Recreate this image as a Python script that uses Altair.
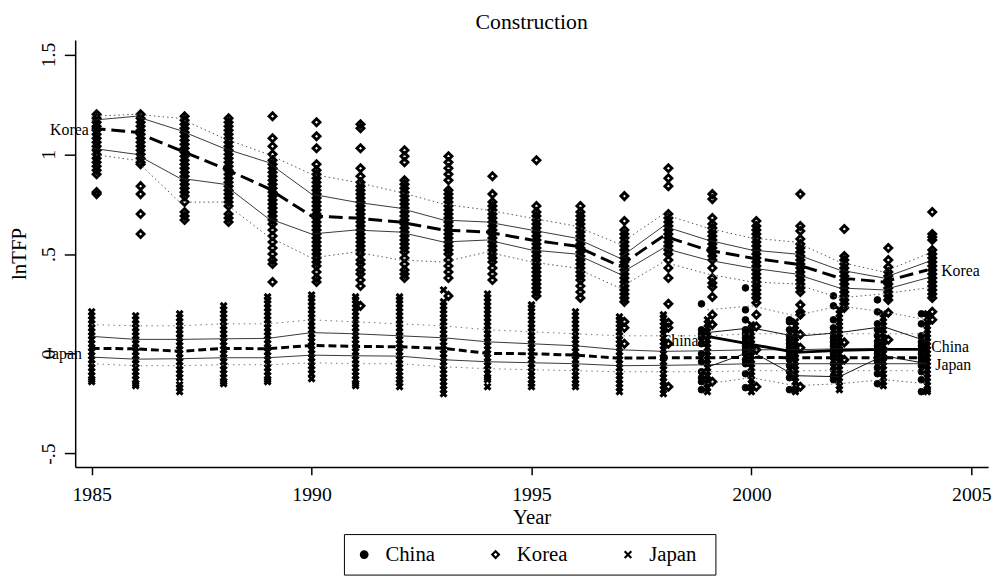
import altair as alt
import pandas as pd

# ---------------- data ----------------
years = list(range(1985, 2005))
china_years = list(range(1999, 2005))
countries = ["China", "Korea", "Japan"]

korea_points = [
    [1.20, 1.18, 1.16, 1.14, 1.12, 1.10, 1.08, 1.06, 1.04, 1.02, 1.00, 0.98, 0.96, 0.94, 0.92, 0.90, 0.81, 0.80],
    [1.20, 1.18, 1.16, 1.14, 1.12, 1.10, 1.08, 1.06, 1.04, 1.02, 1.00, 0.98, 0.96, 0.95, 0.84, 0.80, 0.70, 0.60],
    [1.19, 1.17, 1.15, 1.13, 1.11, 1.09, 1.07, 1.05, 1.03, 1.01, 0.99, 0.97, 0.95, 0.93, 0.91, 0.89, 0.87, 0.85, 0.83, 0.81, 0.79, 0.76, 0.71, 0.69, 0.67],
    [1.18, 1.16, 1.14, 1.12, 1.10, 1.08, 1.06, 1.04, 1.02, 1.00, 0.98, 0.96, 0.94, 0.92, 0.90, 0.88, 0.86, 0.84, 0.82, 0.80, 0.78, 0.76, 0.74, 0.70, 0.68, 0.66],
    [1.19, 1.08, 1.04, 1.00, 0.97, 0.95, 0.93, 0.91, 0.89, 0.87, 0.85, 0.83, 0.81, 0.79, 0.77, 0.75, 0.73, 0.71, 0.69, 0.67, 0.65, 0.62, 0.59, 0.56, 0.53, 0.50, 0.47, 0.45, 0.36],
    [1.16, 1.09, 1.03, 0.95, 0.92, 0.90, 0.88, 0.86, 0.84, 0.82, 0.80, 0.78, 0.76, 0.74, 0.72, 0.70, 0.68, 0.66, 0.64, 0.62, 0.60, 0.58, 0.56, 0.54, 0.52, 0.50, 0.48, 0.46, 0.44, 0.41, 0.38, 0.36],
    [1.15, 1.13, 1.03, 0.93, 0.89, 0.86, 0.84, 0.82, 0.80, 0.78, 0.76, 0.74, 0.72, 0.70, 0.68, 0.66, 0.64, 0.62, 0.60, 0.58, 0.56, 0.54, 0.52, 0.50, 0.47, 0.45, 0.42, 0.40, 0.37, 0.34, 0.24],
    [1.02, 0.99, 0.96, 0.87, 0.85, 0.83, 0.81, 0.79, 0.77, 0.75, 0.73, 0.71, 0.69, 0.67, 0.65, 0.63, 0.61, 0.59, 0.57, 0.55, 0.53, 0.51, 0.48, 0.45, 0.42, 0.40, 0.38],
    [0.99, 0.96, 0.93, 0.90, 0.87, 0.82, 0.80, 0.78, 0.76, 0.74, 0.72, 0.70, 0.68, 0.66, 0.64, 0.62, 0.60, 0.58, 0.56, 0.54, 0.52, 0.50, 0.47, 0.44, 0.41, 0.38, 0.29],
    [0.89, 0.80, 0.76, 0.74, 0.72, 0.70, 0.68, 0.66, 0.64, 0.62, 0.60, 0.58, 0.56, 0.54, 0.52, 0.50, 0.48, 0.46, 0.43, 0.40, 0.37],
    [0.97, 0.74, 0.71, 0.69, 0.67, 0.65, 0.63, 0.61, 0.59, 0.57, 0.55, 0.53, 0.51, 0.49, 0.47, 0.45, 0.43, 0.41, 0.39, 0.37, 0.35, 0.33, 0.31, 0.29],
    [0.74, 0.71, 0.69, 0.67, 0.65, 0.63, 0.61, 0.59, 0.57, 0.55, 0.53, 0.51, 0.49, 0.47, 0.45, 0.43, 0.41, 0.39, 0.37, 0.34, 0.31, 0.28],
    [0.79, 0.665, 0.62, 0.60, 0.58, 0.56, 0.54, 0.52, 0.50, 0.48, 0.46, 0.44, 0.42, 0.40, 0.38, 0.36, 0.34, 0.32, 0.30, 0.28, 0.26, 0.16, 0.13, 0.05],
    [0.93, 0.88, 0.84, 0.70, 0.68, 0.66, 0.64, 0.62, 0.60, 0.58, 0.56, 0.54, 0.52, 0.50, 0.47, 0.43, 0.38, 0.25, 0.155, 0.13, 0.05, -0.165],
    [0.80, 0.775, 0.68, 0.65, 0.63, 0.61, 0.59, 0.57, 0.55, 0.53, 0.51, 0.49, 0.47, 0.43, 0.38, 0.355, 0.335, 0.285, 0.195, 0.146, -0.14],
    [0.665, 0.64, 0.62, 0.60, 0.58, 0.56, 0.54, 0.52, 0.50, 0.48, 0.46, 0.44, 0.42, 0.40, 0.38, 0.36, 0.34, 0.32, 0.30, 0.28, 0.255, 0.195, 0.137, 0.02, -0.165],
    [0.80, 0.64, 0.615, 0.575, 0.55, 0.53, 0.51, 0.49, 0.47, 0.45, 0.43, 0.41, 0.39, 0.37, 0.35, 0.33, 0.31, 0.245, 0.21, 0.195, 0.096, 0.03, -0.165],
    [0.625, 0.49, 0.47, 0.45, 0.43, 0.41, 0.39, 0.37, 0.35, 0.33, 0.31, 0.29, 0.27, 0.25, 0.23, 0.057, -0.03],
    [0.53, 0.47, 0.435, 0.41, 0.39, 0.37, 0.35, 0.33, 0.31, 0.29, 0.27, 0.205, 0.07],
    [0.71, 0.60, 0.585, 0.57, 0.52, 0.50, 0.48, 0.46, 0.44, 0.42, 0.40, 0.38, 0.36, 0.34, 0.32, 0.30, 0.28, 0.21, 0.17],
]

japan_points = [
    [0.21, 0.19, 0.17, 0.15, 0.13, 0.11, 0.09, 0.07, 0.05, 0.03, 0.01, -0.01, -0.03, -0.05, -0.07, -0.09, -0.11, -0.13, -0.14],
    [0.19, 0.17, 0.15, 0.13, 0.11, 0.09, 0.07, 0.05, 0.03, 0.01, -0.01, -0.03, -0.05, -0.07, -0.09, -0.11, -0.13, -0.15, -0.16],
    [0.20, 0.18, 0.16, 0.14, 0.12, 0.10, 0.08, 0.06, 0.04, 0.02, 0.00, -0.02, -0.04, -0.06, -0.08, -0.10, -0.12, -0.155, -0.17, -0.19],
    [0.24, 0.22, 0.20, 0.18, 0.16, 0.14, 0.12, 0.10, 0.08, 0.06, 0.04, 0.02, 0.00, -0.02, -0.04, -0.06, -0.08, -0.10, -0.12, -0.14, -0.15],
    [0.285, 0.27, 0.25, 0.23, 0.21, 0.19, 0.17, 0.15, 0.13, 0.11, 0.09, 0.07, 0.05, 0.03, 0.01, -0.01, -0.03, -0.05, -0.07, -0.09, -0.11, -0.13, -0.14],
    [0.295, 0.28, 0.26, 0.24, 0.22, 0.20, 0.18, 0.16, 0.14, 0.12, 0.10, 0.08, 0.06, 0.04, 0.02, 0.00, -0.02, -0.04, -0.06, -0.08, -0.10, -0.125],
    [0.285, 0.27, 0.25, 0.23, 0.21, 0.19, 0.17, 0.15, 0.13, 0.11, 0.09, 0.07, 0.05, 0.03, 0.01, -0.01, -0.03, -0.05, -0.07, -0.09, -0.11, -0.13, -0.15, -0.16],
    [0.285, 0.27, 0.25, 0.23, 0.21, 0.19, 0.17, 0.15, 0.13, 0.11, 0.09, 0.07, 0.05, 0.03, 0.01, -0.01, -0.03, -0.05, -0.07, -0.09, -0.11, -0.13, -0.145, -0.165],
    [0.32, 0.26, 0.24, 0.22, 0.20, 0.18, 0.16, 0.14, 0.12, 0.10, 0.08, 0.06, 0.04, 0.02, 0.00, -0.02, -0.04, -0.06, -0.08, -0.10, -0.12, -0.14, -0.16, -0.18, -0.20],
    [0.30, 0.28, 0.26, 0.24, 0.22, 0.20, 0.18, 0.16, 0.14, 0.12, 0.10, 0.08, 0.06, 0.04, 0.02, 0.00, -0.02, -0.04, -0.06, -0.08, -0.10, -0.12, -0.13, -0.165],
    [0.245, 0.23, 0.21, 0.19, 0.17, 0.15, 0.13, 0.11, 0.09, 0.07, 0.05, 0.03, 0.01, -0.01, -0.03, -0.05, -0.07, -0.09, -0.11, -0.13, -0.15, -0.165],
    [0.21, 0.19, 0.17, 0.15, 0.13, 0.11, 0.09, 0.07, 0.05, 0.03, 0.01, -0.01, -0.03, -0.05, -0.07, -0.09, -0.11, -0.13, -0.15, -0.165],
    [0.185, 0.17, 0.15, 0.13, 0.11, 0.09, 0.07, 0.05, 0.03, 0.01, -0.01, -0.03, -0.05, -0.07, -0.09, -0.11, -0.13, -0.15, -0.17, -0.19],
    [0.195, 0.18, 0.16, 0.14, 0.12, 0.10, 0.08, 0.06, 0.04, 0.02, 0.00, -0.02, -0.04, -0.06, -0.08, -0.10, -0.12, -0.14, -0.16, -0.18, -0.20],
    [0.17, 0.15, 0.13, 0.11, 0.09, 0.07, 0.05, 0.03, 0.01, -0.01, -0.03, -0.05, -0.07, -0.09, -0.11, -0.13, -0.15, -0.17, -0.19],
    [0.145, 0.13, 0.11, 0.09, 0.07, 0.05, 0.03, 0.01, -0.01, -0.03, -0.05, -0.07, -0.09, -0.11, -0.13, -0.15, -0.17, -0.19],
    [0.16, 0.14, 0.12, 0.10, 0.08, 0.06, 0.04, 0.02, 0.00, -0.02, -0.04, -0.06, -0.08, -0.10, -0.12, -0.14, -0.16, -0.18, -0.19],
    [0.22, 0.20, 0.18, 0.16, 0.14, 0.12, 0.10, 0.08, 0.06, 0.04, 0.02, 0.00, -0.02, -0.04, -0.06, -0.08, -0.10, -0.12, -0.14, -0.16, -0.18],
    [0.20, 0.18, 0.16, 0.14, 0.12, 0.10, 0.08, 0.06, 0.04, 0.02, 0.00, -0.02, -0.04, -0.06, -0.08, -0.10, -0.12, -0.14, -0.16],
    [0.20, 0.18, 0.16, 0.14, 0.12, 0.10, 0.08, 0.06, 0.04, 0.02, 0.00, -0.02, -0.04, -0.06, -0.08, -0.10, -0.12, -0.14, -0.16, -0.18, -0.19],
]

china_points = [
    [0.25, 0.12, 0.10, 0.08, 0.05, 0.00, -0.04, -0.09, -0.12, -0.14, -0.18],
    [0.33, 0.22, 0.17, 0.12, 0.10, 0.08, 0.06, 0.04, 0.02, 0.00, -0.03, -0.05, -0.10, -0.17],
    [0.17, 0.16, 0.12, 0.09, 0.07, 0.05, 0.03, 0.01, -0.01, -0.03, -0.06, -0.09, -0.12, -0.18],
    [0.29, 0.24, 0.17, 0.13, 0.10, 0.08, 0.06, 0.04, 0.02, 0.00, -0.02, -0.05, -0.08, -0.11, -0.13],
    [0.27, 0.21, 0.15, 0.12, 0.09, 0.06, 0.04, 0.02, 0.00, -0.02, -0.04, -0.07, -0.10, -0.15],
    [0.20, 0.15, 0.09, 0.06, 0.04, 0.02, 0.00, -0.02, -0.04, -0.06, -0.09, -0.13, -0.19],
]

korea_mean = [1.13, 1.11, 1.02, 0.93, 0.83, 0.69, 0.68, 0.66, 0.62, 0.61, 0.57, 0.54, 0.44, 0.59, 0.52, 0.48, 0.45, 0.38, 0.36, 0.42]
korea_p75 = [1.17, 1.19, 1.12, 1.03, 0.96, 0.80, 0.76, 0.73, 0.67, 0.66, 0.62, 0.58, 0.48, 0.64, 0.57, 0.52, 0.50, 0.42, 0.38, 0.46]
korea_p25 = [1.03, 1.00, 0.88, 0.85, 0.68, 0.60, 0.62, 0.61, 0.56, 0.57, 0.52, 0.50, 0.40, 0.53, 0.47, 0.43, 0.40, 0.33, 0.32, 0.38]
korea_p90 = [1.19, 1.20, 1.18, 1.08, 1.00, 0.90, 0.86, 0.81, 0.75, 0.72, 0.68, 0.64, 0.55, 0.70, 0.63, 0.58, 0.56, 0.46, 0.41, 0.50]
korea_p10 = [1.00, 0.97, 0.76, 0.76, 0.59, 0.48, 0.51, 0.47, 0.46, 0.51, 0.46, 0.43, 0.33, 0.46, 0.40, 0.36, 0.35, 0.28, 0.30, 0.33]

japan_mean = [0.027, 0.025, 0.012, 0.027, 0.025, 0.042, 0.037, 0.035, 0.027, 0.002, 0.000, -0.007, -0.022, -0.020, -0.020, -0.018, -0.020, -0.020, -0.020, -0.020]
japan_p75 = [0.087, 0.072, 0.072, 0.075, 0.077, 0.106, 0.100, 0.090, 0.080, 0.060, 0.050, 0.040, 0.020, 0.012, 0.015, 0.020, 0.020, 0.025, 0.025, 0.025]
japan_p25 = [-0.017, -0.027, -0.025, -0.020, -0.020, -0.007, -0.010, -0.012, -0.030, -0.040, -0.045, -0.050, -0.060, -0.058, -0.055, -0.050, -0.050, -0.050, -0.050, -0.050]
japan_p90 = [0.146, 0.140, 0.140, 0.150, 0.150, 0.170, 0.160, 0.150, 0.140, 0.120, 0.110, 0.100, 0.090, 0.090, 0.090, 0.100, 0.100, 0.100, 0.100, 0.100]
japan_p10 = [-0.050, -0.060, -0.060, -0.055, -0.055, -0.045, -0.050, -0.050, -0.065, -0.075, -0.080, -0.085, -0.090, -0.090, -0.090, -0.085, -0.085, -0.085, -0.085, -0.085]

china_mean = [0.087, 0.047, 0.007, 0.017, 0.022, 0.022]
china_p75 = [0.106, 0.130, 0.087, 0.106, 0.136, 0.062]
china_p25 = [-0.067, 0.012, -0.110, -0.115, -0.010, -0.050]
china_p90 = [0.220, 0.240, 0.190, 0.240, 0.210, 0.170]
china_p10 = [-0.150, -0.120, -0.160, -0.150, -0.130, -0.150]

label_text = ["Korea", "Japan", "China", "Korea", "China", "Japan"]
label_year = [1985, 1985, 1999, 2004, 2004, 2004]
label_value = [1.12, 0.0, 0.062, 0.413, 0.032, -0.057]
label_side = ["left", "left", "left", "right", "right", "right"]

x_tick_values = [1985, 1990, 1995, 2000, 2005]
y_tick_values = [-0.5, 0, 0.5, 1, 1.5]
y_tick_labels = ["-.5", "0", ".5", "1", "1.5"]

# ---------------- tables ----------------
rows = []
for country, yrs, cols in [("China", china_years, china_points),
                           ("Korea", years, korea_points),
                           ("Japan", years, japan_points)]:
    for yr, col in zip(yrs, cols):
        for v in col:
            rows.append({"year": yr, "country": country, "lnTFP": v})
points = pd.DataFrame(rows)

stat_rows = []
for country, yrs, stats in [
    ("Korea", years, {"mean": korea_mean, "p75": korea_p75, "p25": korea_p25, "p90": korea_p90, "p10": korea_p10}),
    ("Japan", years, {"mean": japan_mean, "p75": japan_p75, "p25": japan_p25, "p90": japan_p90, "p10": japan_p10}),
    ("China", china_years, {"mean": china_mean, "p75": china_p75, "p25": china_p25, "p90": china_p90, "p10": china_p10}),
]:
    for stat, vals in stats.items():
        for yr, v in zip(yrs, vals):
            stat_rows.append({"year": yr, "country": country, "stat": stat, "lnTFP": v})
stats_df = pd.DataFrame(stat_rows)

labels_df = pd.DataFrame({"year": label_year, "lnTFP": label_value, "text": label_text, "side": label_side})

# ---------------- encodings ----------------
FONT = "Liberation Serif"
x_scale = alt.Scale(domain=[1984.625, 2005.382], nice=False, zero=False)
y_scale = alt.Scale(domain=[-0.567, 1.572], nice=False, zero=False)

label_expr = " : ".join(
    f"datum.value == {v} ? '{t}'" for v, t in zip(y_tick_values, y_tick_labels)
) + " : ''"

x_enc = alt.X("year:Q", scale=x_scale, axis=alt.Axis(
    values=x_tick_values, format="d", title="Year", grid=False,
    tickSize=8, labelPadding=10, titlePadding=2, labelFlush=False))
y_enc = alt.Y("lnTFP:Q", scale=y_scale, axis=alt.Axis(
    values=y_tick_values, labelExpr=label_expr, title="lnTFP", grid=False,
    tickSize=11, labelAngle=270, labelAlign="center", labelBaseline="bottom",
    labelPadding=6, titlePadding=9))

X_PATH = "M-1,-1L1,1M-1,1L1,-1"
shape_scale = alt.Scale(domain=countries, range=["circle", "diamond", X_PATH])
fill_scale = alt.Scale(domain=countries, range=["black", "transparent", "black"])
stroke_scale = alt.Scale(domain=countries, range=["black", "black", "black"])
legend = alt.Legend(
    orient="none", legendX=272, legendY=500, direction="horizontal",
    title="\u00a0", titleOrient="right", titlePadding=9, titleFontSize=21, titleFont=FONT,
    strokeColor="black", padding=10, labelFont=FONT, labelFontSize=21,
    labelColor="black", symbolSize=45, symbolStrokeWidth=2.2,
    columnPadding=50, labelOffset=11)

point_style = {
    "China": dict(size=45, strokeWidth=1, xOffset=-6),
    "Korea": dict(size=50, strokeWidth=2.9, xOffset=5),
    "Japan": dict(size=36, strokeWidth=3, xOffset=0),
}

layers = []
for c in countries:
    st = point_style[c]
    layers.append(
        alt.Chart(points).transform_filter(alt.datum.country == c)
        .mark_point(opacity=1, size=st["size"], strokeWidth=st["strokeWidth"], xOffset=st["xOffset"])
        .encode(
            x=x_enc, y=y_enc,
            shape=alt.Shape("country:N", scale=shape_scale, legend=legend),
            fill=alt.Fill("country:N", scale=fill_scale, legend=legend),
            stroke=alt.Stroke("country:N", scale=stroke_scale, legend=legend),
        )
    )

line_style = {
    ("Korea", "p90"): dict(strokeWidth=1, color="#555555", strokeDash=[1.5, 3]),
    ("Korea", "p10"): dict(strokeWidth=1, color="#555555", strokeDash=[1.5, 3]),
    ("Korea", "p75"): dict(strokeWidth=0.9, color="#222222"),
    ("Korea", "p25"): dict(strokeWidth=0.9, color="#222222"),
    ("Korea", "mean"): dict(strokeWidth=3, color="black", strokeDash=[14, 6]),
    ("Japan", "p90"): dict(strokeWidth=1, color="#777777", strokeDash=[1.5, 4]),
    ("Japan", "p10"): dict(strokeWidth=1, color="#777777", strokeDash=[1.5, 4]),
    ("Japan", "p75"): dict(strokeWidth=0.9, color="#222222"),
    ("Japan", "p25"): dict(strokeWidth=0.9, color="#222222"),
    ("Japan", "mean"): dict(strokeWidth=3, color="black", strokeDash=[8, 4]),
    ("China", "p90"): dict(strokeWidth=1, color="#666666", strokeDash=[1.5, 3]),
    ("China", "p10"): dict(strokeWidth=1, color="#666666", strokeDash=[1.5, 3]),
    ("China", "p75"): dict(strokeWidth=1, color="#111111"),
    ("China", "p25"): dict(strokeWidth=1, color="#111111"),
    ("China", "mean"): dict(strokeWidth=3, color="black"),
}
for (c, s), style in line_style.items():
    layers.append(
        alt.Chart(stats_df)
        .transform_filter((alt.datum.country == c) & (alt.datum.stat == s))
        .mark_line(**style)
        .encode(x=x_enc, y=y_enc)
    )

# per-label horizontal nudge (style, in pixels)
label_nudge = {("Korea", "left"): -3, ("Japan", "left"): -10, ("China", "left"): -9,
               ("Korea", "right"): 14, ("China", "right"): 4, ("Japan", "right"): 8}
for (name, side), dx in label_nudge.items():
    layers.append(
        alt.Chart(labels_df)
        .transform_filter((alt.datum.side == side) & (alt.datum.text == name))
        .mark_text(font=FONT, fontSize=16, color="black",
                   align="right" if side == "left" else "left", baseline="middle", dx=dx)
        .encode(x=x_enc, y=y_enc, text="text:N")
    )

chart = (
    alt.layer(*layers)
    .properties(
        width=924, height=432,
        title=alt.TitleParams("Construction", font=FONT, fontSize=22, fontWeight="normal",
                              color="black", anchor="middle", offset=6),
        padding={"left": 68, "top": 29, "right": 10, "bottom": 110},
        autosize=alt.AutoSizeParams(type="none"),
    )
    .configure_view(stroke="transparent")
    .configure_axis(
        labelFont=FONT, titleFont=FONT, labelFontSize=20, titleFontSize=21,
        labelColor="black", titleColor="black", titleFontWeight="normal",
        domainColor="black", domainWidth=1.5, tickColor="black", tickWidth=1.5,
    )
)

chart.save("out.html", embed_options={"renderer": "svg", "actions": False})
